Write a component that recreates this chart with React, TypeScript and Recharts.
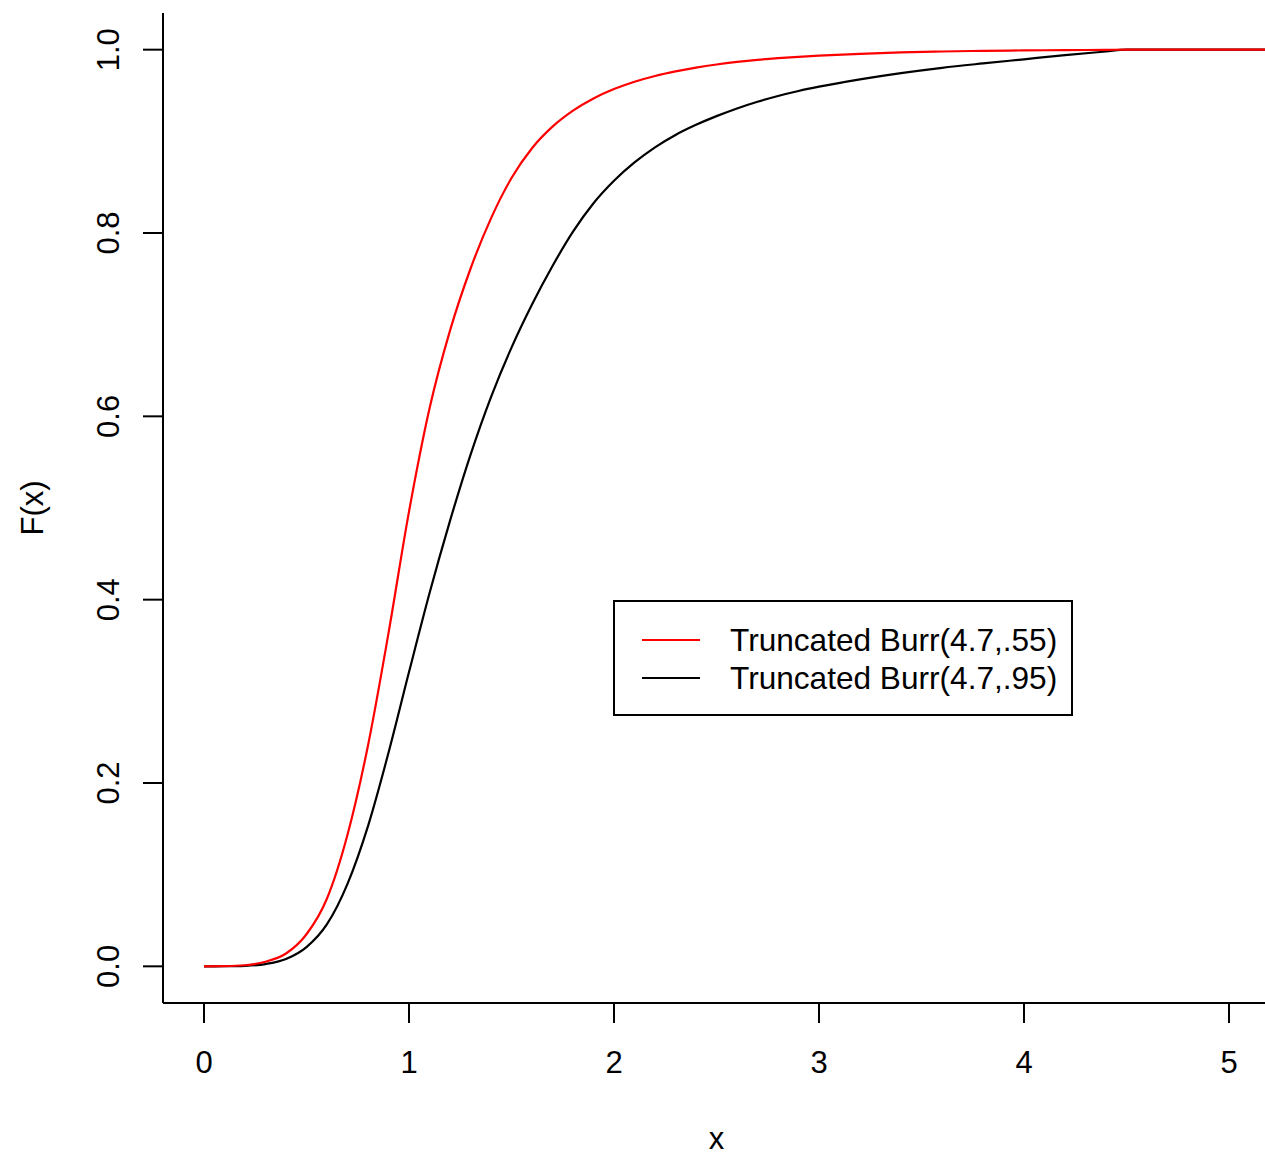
import { LineChart, Line, XAxis, YAxis } from "recharts";

const FONT = '"Liberation Sans", Arial, Helvetica, sans-serif';

// x grid and the two CDF curves
const xs = [
  0, 0.1, 0.2, 0.3, 0.4, 0.5, 0.6, 0.7, 0.8, 0.9, 1.0, 1.1, 1.2, 1.3, 1.4, 1.5,
  1.6, 1.7, 1.8, 1.9, 2.0, 2.1, 2.2, 2.3, 2.4, 2.5, 2.6, 2.7, 2.8, 2.9, 3.0,
  3.2, 3.4, 3.6, 3.8, 4.0, 4.2, 4.4, 4.5, 4.6, 4.8, 5.0, 5.2,
];
const burr55 = [
  0, 0.0002, 0.0012, 0.005, 0.014, 0.035, 0.074, 0.1435, 0.241, 0.3635, 0.496,
  0.6085, 0.6935, 0.761, 0.816, 0.86, 0.8925, 0.916, 0.9335, 0.9468, 0.957,
  0.965, 0.9713, 0.9763, 0.9804, 0.9838, 0.9866, 0.9889, 0.9907, 0.9922, 0.9935,
  0.9955, 0.997, 0.998, 0.9987, 0.9992, 0.9995, 0.9998, 1, 1, 1, 1, 1,
];
const burr95 = [
  0, 0.0001, 0.0006, 0.0025, 0.008, 0.021, 0.046, 0.09, 0.153, 0.233, 0.321,
  0.407, 0.486, 0.558, 0.621, 0.675, 0.722, 0.764, 0.8015, 0.8325, 0.857, 0.877,
  0.8935, 0.907, 0.918, 0.9275, 0.9359, 0.9432, 0.9495, 0.9549, 0.9596, 0.9676,
  0.9744, 0.9802, 0.985, 0.9895, 0.994, 0.998, 1, 1, 1, 1, 1,
];
const seriesNames = ["Truncated Burr(4.7,.55)", "Truncated Burr(4.7,.95)"];
const seriesColors = ["#ff0000", "#000000"];
const xTicks = [0, 1, 2, 3, 4, 5];
const yTicks = [0, 0.2, 0.4, 0.6, 0.8, 1.0];

const data = xs.map((x, i) => ({ x, a: burr55[i], b: burr95[i] }));

function YTick(props: any) {
  const { x, y, payload } = props;
  const tx = x - 24;
  return (
    <text
      x={tx}
      y={y}
      transform={`rotate(-90, ${tx}, ${y})`}
      textAnchor="middle"
      fontSize={31}
      fontFamily={FONT}
      fill="#000"
    >
      {payload.value.toFixed(1)}
    </text>
  );
}

export default function App() {
  return (
    <div
      style={{
        position: "absolute",
        left: 0,
        top: 0,
        width: 1265,
        height: 1156,
        overflow: "hidden",
        background: "#fff",
        fontFamily: FONT,
      }}
    >
      <LineChart
        width={1275}
        height={1156}
        data={data}
        margin={{ top: 13, right: 5, bottom: 0, left: 0 }}
      >
        <XAxis
          dataKey="x"
          type="number"
          domain={[-0.2, 5.2]}
          ticks={xTicks}
          allowDataOverflow
          height={153}
          tickSize={20}
          tickMargin={28}
          axisLine={{ stroke: "#000", strokeWidth: 2 }}
          tickLine={{ stroke: "#000", strokeWidth: 2 }}
          tick={{ fontSize: 31, fill: "#000", fontFamily: FONT }}
          label={(p: any) => {
            const vb = p.viewBox;
            return (
              <text
                x={vb.x + vb.width / 2}
                y={vb.y + 146}
                textAnchor="middle"
                fontSize={31}
                fontFamily={FONT}
                fill="#000"
              >
                x
              </text>
            );
          }}
        />
        <XAxis
          xAxisId="top"
          dataKey="x"
          type="number"
          orientation="top"
          domain={[-0.2, 5.2]}
          height={0}
          tick={false}
          tickLine={false}
          axisLine={{ stroke: "#000", strokeWidth: 2 }}
        />
        <YAxis
          type="number"
          domain={[-0.04, 1.04]}
          ticks={yTicks}
          allowDataOverflow
          width={163}
          tickSize={20}
          tickMargin={0}
          axisLine={{ stroke: "#000", strokeWidth: 2 }}
          tickLine={{ stroke: "#000", strokeWidth: 2 }}
          tick={<YTick />}
          label={(p: any) => {
            const vb = p.viewBox;
            const cx = vb.x + 43;
            const cy = vb.y + vb.height / 2;
            return (
              <text
                x={cx}
                y={cy}
                transform={`rotate(-90, ${cx}, ${cy})`}
                textAnchor="middle"
                fontSize={31}
                fontFamily={FONT}
                fill="#000"
              >
                F(x)
              </text>
            );
          }}
        />
        <Line
          dataKey="b"
          type="monotone"
          stroke={seriesColors[1]}
          strokeWidth={2.2}
          dot={false}
          isAnimationActive={false}
        />
        <Line
          dataKey="a"
          type="monotone"
          stroke={seriesColors[0]}
          strokeWidth={2.2}
          dot={false}
          isAnimationActive={false}
        />
      </LineChart>
      <div
        style={{
          position: "absolute",
          left: 613,
          top: 600,
          width: 460,
          height: 116,
          boxSizing: "border-box",
          border: "2px solid #000",
          background: "#fff",
        }}
      >
        {seriesNames.map((name, i) => (
          <div
            key={name}
            style={{
              position: "absolute",
              left: 0,
              top: 19 + i * 38,
              height: 38,
              display: "flex",
              alignItems: "center",
            }}
          >
            <div
              style={{
                marginLeft: 27,
                width: 58,
                height: 2,
                background: seriesColors[i],
              }}
            />
            <span
              style={{
                marginLeft: 30,
                fontSize: 31.6,
                lineHeight: "38px",
                color: "#000",
                whiteSpace: "nowrap",
              }}
            >
              {name}
            </span>
          </div>
        ))}
      </div>
    </div>
  );
}
